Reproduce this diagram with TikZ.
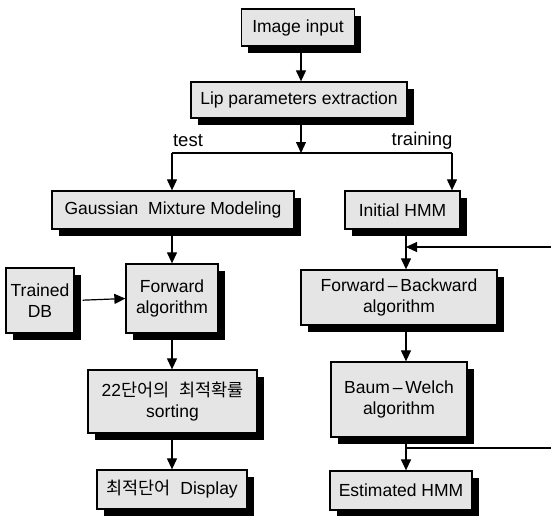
\documentclass[tikz,border=0pt]{standalone}
\usepackage{fontspec}
\setmainfont{Liberation Sans}
\newfontfamily\kr{Noto Sans CJK KR}
\usetikzlibrary{arrows.meta,shadows}
\begin{document}
\begin{tikzpicture}[x=1pt,y=-1pt,
  blk/.style={draw=black,line width=1.3pt,fill=black!10,inner sep=0pt,align=center,
    font=\fontsize{17.5}{20.5}\selectfont,
    drop shadow={shadow xshift=6.5pt,shadow yshift=-6.5pt,fill=black,opacity=1}},
  arr/.style={line width=1.2pt,-{Triangle[length=11pt,width=10pt]}},
  ln/.style={line width=1.2pt},
  lbl/.style={font=\fontsize{18.5}{21}\selectfont,inner sep=0pt}]
\useasboundingbox (0,0) rectangle (551,515);

% left (test) branch and top
\node[blk,minimum width=113pt,minimum height=37pt] (img) at (298,27.5) {Image input};
\node[blk,minimum width=216pt,minimum height=36pt] (lip) at (299,100) {Lip parameters extraction};
\node[blk,minimum width=242pt,minimum height=38pt] (gmm) at (173,210) {Gaussian\ \ Mixture Modeling};
\node[blk,minimum width=68pt,minimum height=65pt] (db) at (40,300.5) {Trained\\DB};
\node[blk,minimum width=92pt,minimum height=69pt] (fwd) at (172,298.5) {Forward\\algorithm};
\node[blk,minimum width=169pt,minimum height=63pt] (sort) at (172.5,401.5) {22{\kr 단어의}\ \ {\kr 최적확률}\\sorting};
\node[blk,minimum width=150pt,minimum height=39pt] (disp) at (172,489.5) {{\kr 최적단어}\ \ Display};

% right (training) branch
\node[blk,minimum width=115pt,minimum height=38pt] (ihmm) at (402.5,210) {Initial HMM};
\node[blk,minimum width=196pt,minimum height=55pt] (fb) at (399,297.5) {Forward\,--\,Backward\\algorithm};
\node[blk,minimum width=136pt,minimum height=75pt] (bw) at (399,399.5) {Baum\,--\,Welch\\algorithm};
\node[blk,minimum width=142pt,minimum height=39pt] (est) at (401,490.5) {Estimated HMM};

% column guides and junctions
\coordinate (colT) at (301,0);
\coordinate (colL) at (172,0);
\coordinate (colR) at (406,0);
\coordinate (colTr) at (452,0);
\coordinate (split) at (301,153);
\coordinate (loopin) at (551,247);
\coordinate (loopout) at (551,448);
\coordinate (loopjoin) at (406,247);
\coordinate (bwjoin) at (406,448);

\node[lbl] (ttest) at (188,141) {test};
\node[lbl] (ttrain) at (422,141) {training};

\draw[arr] (img.south -| colT) -- (lip.north -| colT);
\draw[arr] (lip.south -| colT) -- (split);
\draw[ln] (split -| colL) -- (split -| colTr);
\draw[arr] (split -| colL) -- (gmm.north -| colL);
\draw[arr] (split -| colTr) -- (ihmm.north -| colTr);

\draw[arr] (gmm.south -| colL) -- (fwd.north -| colL);
\draw[arr,shorten <=8pt] (db.east) -- (fwd.west);
\draw[arr] (fwd.south -| colL) -- (sort.north -| colL);
\draw[arr] (sort.south -| colL) -- (disp.north -| colL);

\draw[arr] (ihmm.south -| colR) -- (fb.north -| colR);
\draw[arr] (loopin) -- (loopjoin);
\draw[arr] (fb.south -| colR) -- (bw.north -| colR);
\draw[arr] (bw.south -| colR) -- (est.north -| colR);
\draw[ln] (bwjoin) -- (loopout);
\end{tikzpicture}
\end{document}
